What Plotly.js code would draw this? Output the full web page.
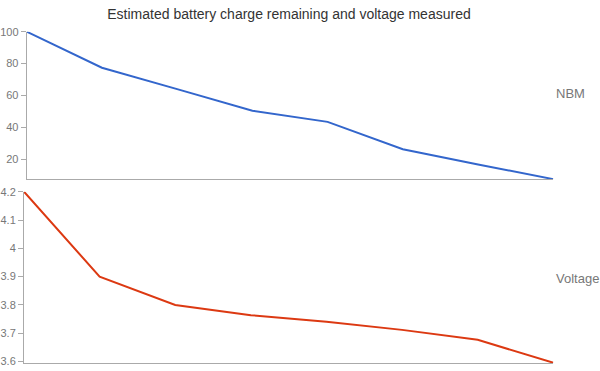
<!DOCTYPE html>
<html>
<head>
<meta charset="utf-8">
<script src="https://cdn.plot.ly/plotly-3.0.1.min.js"></script>
<style>html,body{margin:0;padding:0;background:#fff;}#chart{width:600px;height:371px;}</style>
</head>
<body>
<div id="chart"></div>
<script>
const steps = [0, 1, 2, 3, 4, 5, 6, 7];
const nbm = [100, 77.4, 64, 50.5, 43.5, 26.3, 16.8, 7.6];
const voltage = [4.2, 3.9, 3.8, 3.764, 3.741, 3.712, 3.677, 3.596];
const nbmTicks = [20, 40, 60, 80, 100];
const voltTicks = [3.6, 3.7, 3.8, 3.9, 4, 4.1, 4.2];
const seriesNames = ["NBM", "Voltage"];
const chartTitle = "Estimated battery charge remaining and voltage measured";

const font = "Arial, 'Liberation Sans', sans-serif";
const axisGrey = "#aaaaaa";
const labelGrey = "#777777";

const traces = [
  {x: steps, y: nbm, type: "scatter", mode: "lines", name: seriesNames[0],
   line: {color: "#3366cc", width: 2}, xaxis: "x", yaxis: "y", cliponaxis: false},
  {x: steps, y: voltage, type: "scatter", mode: "lines", name: seriesNames[1],
   line: {color: "#dc3912", width: 2}, xaxis: "x2", yaxis: "y2", cliponaxis: false}
];

const yBase = {
  showline: true, linecolor: axisGrey, linewidth: 1,
  ticks: "outside", ticklen: 5, tickcolor: axisGrey, tickwidth: 1,
  showgrid: false, zeroline: false,
  tickfont: {family: font, size: 11, color: labelGrey}
};
const xBase = {
  showline: true, linecolor: axisGrey, linewidth: 1,
  showticklabels: false, ticks: "", showgrid: false, zeroline: false,
  range: [0, 7]
};

const layout = {
  width: 600, height: 371,
  margin: {l: 0, r: 0, t: 0, b: 0},
  paper_bgcolor: "#ffffff", plot_bgcolor: "#ffffff",
  showlegend: false,
  title: {text: chartTitle, x: 289/600, xanchor: "center", y: 1 - 14/371, yanchor: "middle",
          font: {family: font, size: 14, color: "#333333"}},
  xaxis: Object.assign({}, xBase, {domain: [26.7/600, 553.3/600], anchor: "y"}),
  xaxis2: Object.assign({}, xBase, {domain: [24/600, 553.3/600], anchor: "y2"}),
  yaxis: Object.assign({}, yBase, {domain: [1 - 179.3/371, 1 - 31.7/371], range: [7.5, 100],
          tickvals: nbmTicks, anchor: "x"}),
  yaxis2: Object.assign({}, yBase, {domain: [1 - 363/371, 1 - 191.7/371], range: [3.595, 4.2],
          tickvals: voltTicks, anchor: "x2"}),
  annotations: [
    {text: seriesNames[0], xref: "paper", yref: "paper", x: 554/600, y: 1 - 93.5/371,
     xanchor: "left", yanchor: "middle", showarrow: false,
     font: {family: font, size: 13, color: labelGrey}},
    {text: seriesNames[1], xref: "paper", yref: "paper", x: 554/600, y: 1 - 278.5/371,
     xanchor: "left", yanchor: "middle", showarrow: false,
     font: {family: font, size: 13, color: labelGrey}}
  ]
};

Plotly.newPlot("chart", traces, layout, {displayModeBar: false, staticPlot: true});
</script>
</body>
</html>
